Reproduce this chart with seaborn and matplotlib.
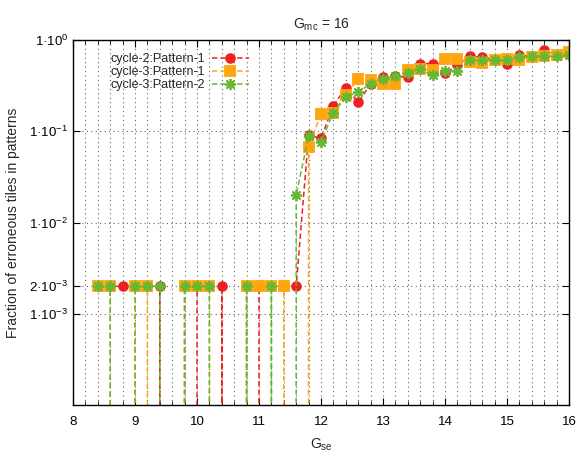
import numpy as np
import pandas as pd
import matplotlib
matplotlib.use("Agg")
from matplotlib import pyplot as plt
from matplotlib.ticker import FixedLocator, MultipleLocator, NullLocator
import seaborn as sns

# G_se values (x axis)
gse = [8.4, 8.6, 8.8, 9.0, 9.2, 9.4, 9.6, 9.8, 10.0, 10.2, 10.4, 10.6, 10.8,
       11.0, 11.2, 11.4, 11.6, 11.8, 12.0, 12.2, 12.4, 12.6, 12.8, 13.0, 13.2,
       13.4, 13.6, 13.8, 14.0, 14.2, 14.4, 14.6, 14.8, 15.0, 15.2, 15.4, 15.6,
       15.8, 16.0]

# fraction of erroneous tiles (0 = no error, drawn as a drop line on log axis)
c2_p1 = [0.002, 0.002, 0.002, 0.002, 0.002, 0.002, 0, 0.002, 0.002, 0,
         0.002, 0, 0, 0.002, 0.002, 0.002, 0.002, 0.090, 0.084, 0.19, 0.30,
         0.208, 0.33, 0.39, 0.40, 0.39, 0.55, 0.55, 0.43, 0.53, 0.66, 0.65,
         0.61, 0.55, 0.69, 0.65, 0.77, 0.68, 0.70]
c3_p1 = [0.002, 0.002, 0, 0.002, 0.002, 0, 0, 0.002, 0.002, 0.002,
         0, 0, 0.002, 0.002, 0.002, 0.002, 0, 0.067, 0.155, 0.16, 0.25,
         0.376, 0.36, 0.33, 0.33, 0.475, 0.48, 0.47, 0.62, 0.62, 0.57, 0.56,
         0.61, 0.62, 0.61, 0.65, 0.66, 0.68, 0.74]
c3_p2 = [0.002, 0.002, 0, 0.002, 0.002, 0.002, 0, 0.002, 0.002, 0.002,
         0, 0, 0.002, 0, 0.002, 0, 0.020, 0.088, 0.077, 0.16, 0.237,
         0.268, 0.331, 0.376, 0.40, 0.44, 0.48, 0.41, 0.46, 0.456, 0.60, 0.60,
         0.61, 0.61, 0.65, 0.66, 0.66, 0.66, 0.68]

labels = ["cycle-2:Pattern-1", "cycle-3:Pattern-1", "cycle-3:Pattern-2"]
colors = ["#ee2020", "#ffa510", "#66b832"]
markers = ["o", "s", (8, 2, 0)]
msizes = [6.3, 7.0, 8.0]

ytick_vals = [1e-3, 2e-3, 1e-2, 1e-1, 1.0]
ytick_labels = ["1·10$^{-3}$", "2·10$^{-3}$", "1·10$^{-2}$", "1·10$^{-1}$", "1·10$^{0}$"]

sns.set_theme(style="ticks")
plt.rcParams["font.family"] = ["Liberation Sans", "DejaVu Sans"]
plt.rcParams["mathtext.default"] = "regular"

fig = plt.figure(figsize=(5.77, 4.61), dpi=100)
ax = fig.add_axes([0.1265, 0.1215, 0.8596, 0.7917])

for lab, vals, col, mk, ms in zip(labels, [c2_p1, c3_p1, c3_p2], colors, markers, msizes):
    df = pd.DataFrame({"gse": gse, "frac": vals})
    sns.lineplot(data=df, x="gse", y="frac", ax=ax, color=col, marker=mk,
                 markersize=ms, markeredgecolor=col, markeredgewidth=1.3,
                 linestyle=(0, (3.5, 2.0)), linewidth=1.1, estimator=None,
                 legend=False, label=lab)

ax.set_yscale("log")
ax.set_ylim(1e-4, 1.0)
ax.set_xlim(8, 16)

ax.xaxis.set_major_locator(MultipleLocator(1))
ax.xaxis.set_minor_locator(MultipleLocator(0.2))
ax.yaxis.set_major_locator(FixedLocator(ytick_vals))
ax.yaxis.set_minor_locator(NullLocator())
ax.set_yticklabels(ytick_labels)

ax.grid(True, axis="x", which="both", color="#666666", linestyle=(0, (1, 3)), linewidth=0.8)
ax.grid(True, axis="y", which="major", color="#666666", linestyle=(0, (1, 3)), linewidth=0.8)

ax.tick_params(which="both", direction="in", top=True, right=True, colors="black",
               labelsize=9.5)
ax.tick_params(which="major", length=5, width=0.8)
ax.tick_params(which="minor", length=3, width=0.6)
ax.tick_params(axis="x", which="major", pad=8)
for sp in ax.spines.values():
    sp.set_color("black")
    sp.set_linewidth(1.0)

ax.set_xlabel("G$_{se}$", fontsize=10, labelpad=6)
ax.set_ylabel("Fraction of erroneous tiles in patterns", fontsize=10, labelpad=7)
ax.set_title("G$_{mc}$ = 16", fontsize=10, pad=8)

handles = ax.get_lines()[:3]
ax.legend(handles=handles, labels=labels, loc="upper left",
          bbox_to_anchor=(0.06, 0.985), frameon=False, markerfirst=False,
          handlelength=2.9, labelspacing=0.08, fontsize=9, borderaxespad=0.2,
          handletextpad=0.6)

fig.savefig("out.png", dpi=100)
